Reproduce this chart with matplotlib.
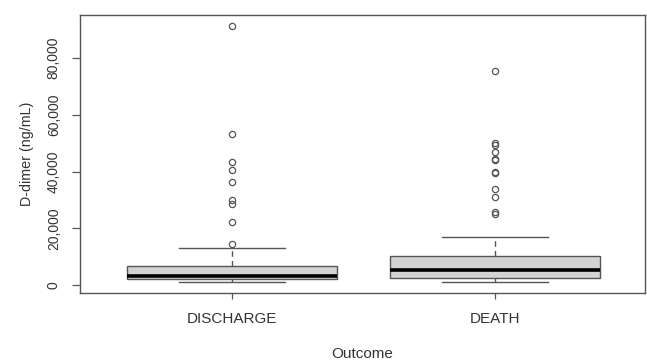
import numpy as np
import matplotlib
matplotlib.use("Agg")
import matplotlib.pyplot as plt
from matplotlib.ticker import FuncFormatter

plt.rcParams['font.family'] = ['Liberation Sans', 'DejaVu Sans']

# values (ng/mL)
groups = ['DISCHARGE', 'DEATH']
whislo = [1160, 1160]
q1 = [2000, 2360]
med = [3170, 5300]
q3 = [6800, 10200]
whishi = [13150, 16900]
fliers_discharge = [91400, 53200, 43300, 40500, 36400, 29950, 28500, 22100, 14550]
fliers_death = [75300, 49900, 49200, 47000, 44500, 43900, 39900, 39500,
                33700, 31100, 25700, 25100]

stats = []
for i, g in enumerate(groups):
    stats.append(dict(label=g, whislo=whislo[i], q1=q1[i], med=med[i],
                      q3=q3[i], whishi=whishi[i],
                      fliers=[fliers_discharge, fliers_death][i]))

fig = plt.figure(figsize=(6.47, 3.63), dpi=100)
ax = fig.add_axes([0.1236, 0.1937, 0.8733, 0.765])

gray = '#555555'
ax.bxp(stats, positions=[1, 2], widths=0.8, patch_artist=True,
       boxprops=dict(facecolor='#d3d3d3', edgecolor=gray, linewidth=1.0),
       medianprops=dict(color='black', linewidth=2.6, solid_capstyle='butt'),
       whiskerprops=dict(color=gray, linewidth=1.0, linestyle=(0, (4, 3))),
       capprops=dict(color=gray, linewidth=1.0),
       capwidths=0.4,
       flierprops=dict(marker='o', markersize=4.5, markerfacecolor='none',
                       markeredgecolor=gray, markeredgewidth=0.9, linestyle='none'))

ax.set_xlim(0.422, 2.570)
ax.set_ylim(-2700, 95150)
ax.set_yticks([0, 20000, 40000, 60000, 80000])
ax.yaxis.set_major_formatter(FuncFormatter(lambda v, p: f'{int(v):,}'))
for lab in ax.get_yticklabels():
    lab.set_rotation(90)
    lab.set_va('center')

for s in ax.spines.values():
    s.set_color(gray)
    s.set_linewidth(1.0)

ax.tick_params(axis='y', length=5.8, width=0.9, color=gray, pad=8,
               labelsize=10, labelcolor='#333333')
ax.tick_params(axis='x', length=4.5, width=0.9, color=gray, pad=9.5,
               labelsize=11, labelcolor='#333333')

ax.set_xlabel('Outcome', fontsize=11, color='#333333', labelpad=15)
ax.set_ylabel('D-dimer (ng/mL)', fontsize=10.3, color='#333333', labelpad=9)

fig.savefig('out.png', dpi=100)
